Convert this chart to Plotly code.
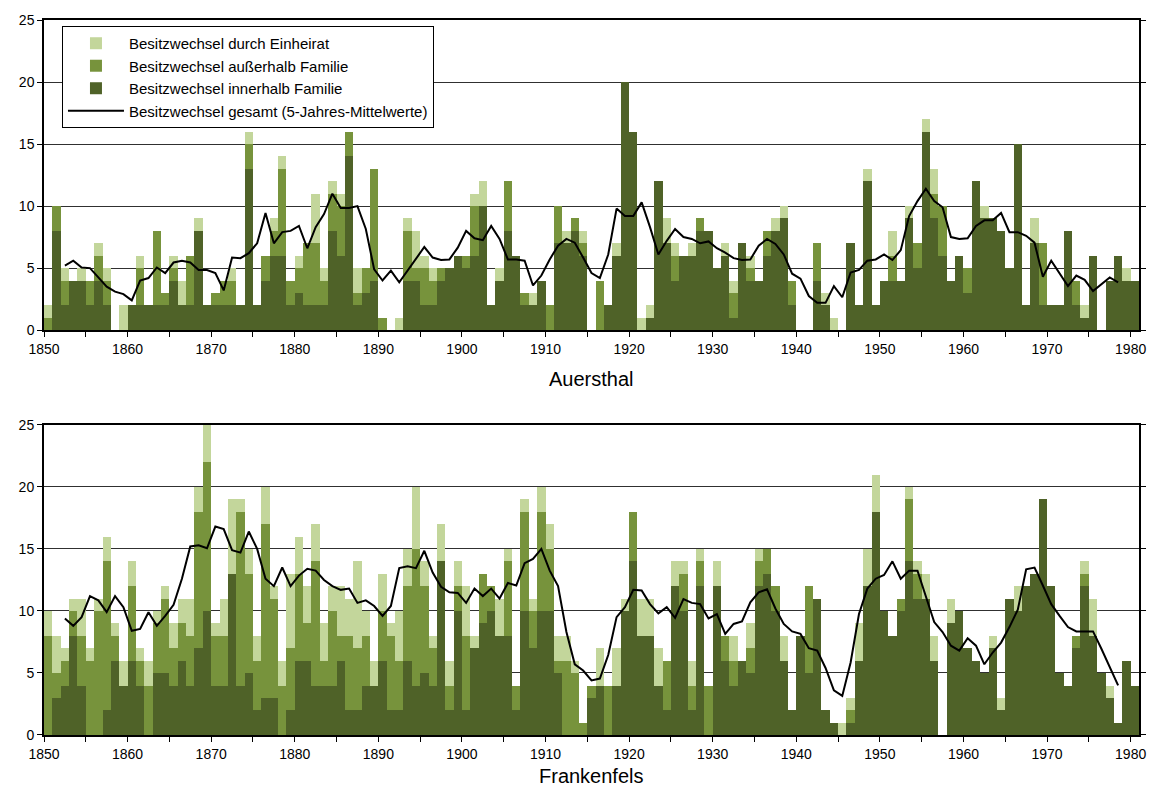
import plotly.graph_objects as go

# ---------------- data ----------------
years = list(range(1850, 1981))
avg_years = list(range(1852, 1979))
tick_years = list(range(1850, 1981, 10))

# Auersthal (top)
auer_inner = [0,8,2,4,4,2,4,2,0,0,
              2,2,2,2,2,4,2,2,8,2,
              2,2,2,2,13,2,4,6,6,2,
              3,2,2,2,8,6,14,2,3,4,
              0,0,0,4,4,2,2,4,5,6,
              5,6,10,2,4,8,6,2,2,4,
              0,7,7,8,6,0,0,2,6,20,
              16,0,1,12,7,4,6,6,8,8,
              5,6,1,7,4,4,6,8,9,2,
              0,0,4,2,0,0,7,2,12,2,
              4,4,4,9,5,16,9,6,4,6,
              3,12,9,9,8,5,15,2,7,2,
              2,2,8,2,1,6,0,4,6,4,4]
auer_outer = [1,2,2,0,0,2,2,2,0,0,
              0,3,0,6,1,1,0,4,0,0,
              1,2,2,0,2,0,2,2,7,2,
              2,5,5,2,3,4,2,1,2,9,
              1,0,0,4,1,3,2,1,0,0,
              1,4,0,0,0,4,0,1,0,0,
              2,3,0,1,1,0,4,0,0,0,
              0,0,0,0,0,2,0,0,1,0,
              0,0,2,0,1,0,2,0,0,2,
              0,0,3,0,0,0,0,0,0,0,
              0,2,0,0,2,0,2,4,0,0,
              2,0,0,0,0,0,0,0,0,5,
              0,0,0,2,0,0,0,0,0,0,0]
auer_marriage = [1,0,1,0,1,0,1,1,0,2,
                 0,1,0,0,0,1,2,0,1,0,
                 0,0,1,0,1,0,0,1,1,0,
                 1,0,4,1,1,1,0,2,0,0,
                 0,0,1,1,3,1,1,0,0,0,
                 0,1,2,0,1,0,0,0,1,0,
                 0,0,1,0,1,0,0,0,1,0,
                 0,1,1,0,2,1,0,1,0,0,
                 0,1,1,0,1,0,0,1,1,0,
                 0,0,0,1,1,0,0,0,1,0,
                 0,2,0,1,0,1,2,0,0,0,
                 0,0,1,0,0,0,0,0,2,0,
                 0,0,0,0,1,0,0,0,0,1,0]
auer_avg = [5.2,5.6,5.05,5.0,4.25,3.5,3.1,2.9,
            2.4,4.0,4.2,5.05,4.6,5.45,5.6,5.45,4.85,4.85,
            4.6,3.2,5.85,5.8,6.2,7.0,9.45,7.0,7.9,8.0,
            8.4,6.6,8.3,9.35,11.0,9.85,9.85,10.0,8.15,4.9,
            4.0,4.8,3.85,4.8,5.7,6.7,5.85,5.65,5.7,6.65,
            8.0,7.4,7.25,8.4,7.35,5.7,5.7,5.6,3.6,4.4,
            5.7,6.8,7.35,7.05,5.85,4.6,4.2,6.1,9.8,9.2,
            9.2,10.3,8.3,6.1,7.2,8.15,7.5,7.35,7.0,7.15,
            6.6,6.25,5.8,5.65,5.7,6.8,7.35,6.95,6.1,4.55,
            4.15,2.75,2.2,2.2,3.55,2.65,4.65,4.85,5.6,5.7,
            6.1,5.65,6.45,9.2,10.4,11.4,10.4,9.9,7.5,7.35,
            7.4,8.4,8.85,8.85,9.45,7.9,7.9,7.6,7.05,4.3,
            5.6,4.55,3.55,4.4,4.05,3.15,3.7,4.25,3.85]

# Frankenfels (bottom)
fran_inner = [0,3,4,8,4,0,0,2,6,4,
              6,4,0,5,5,4,6,4,7,10,
              4,4,13,4,5,2,3,3,0,2,
              6,6,4,4,4,6,2,2,4,4,
              6,2,2,6,4,5,4,14,2,10,
              2,7,9,10,8,8,2,10,7,10,
              10,5,0,0,0,3,4,0,4,10,
              14,8,8,4,2,12,10,2,12,0,
              12,6,4,6,5,12,13,10,6,2,
              8,5,11,2,1,0,1,6,12,18,
              10,8,10,14,11,11,6,0,9,10,
              7,6,5,7,2,11,10,12,13,19,
              12,5,4,7,12,8,5,3,1,6,4]
fran_outer = [8,2,2,2,4,6,10,12,2,0,
              6,2,4,4,6,3,3,4,11,12,
              4,4,0,14,8,4,14,8,4,5,
              7,3,10,2,6,2,6,5,4,0,
              4,6,4,6,11,7,3,0,2,2,
              6,0,4,2,0,6,2,8,3,8,
              5,1,6,5,1,1,0,4,0,0,
              4,0,0,0,4,0,3,2,2,4,
              0,2,2,0,2,2,2,2,0,0,
              0,7,0,0,0,0,1,0,0,0,
              0,0,1,5,2,0,0,0,0,0,
              0,0,0,0,0,0,0,0,0,0,
              0,0,0,1,1,0,0,0,0,0,0]
fran_marriage = [2,3,1,1,3,1,1,2,1,2,
                 2,1,2,1,1,2,2,3,2,3,
                 1,3,6,1,2,2,3,1,2,6,
                 3,3,3,3,2,4,3,7,2,2,
                 3,1,4,3,5,2,1,3,2,2,
                 4,1,0,0,3,1,0,1,1,2,
                 2,2,2,1,0,0,3,0,3,1,
                 0,3,3,3,0,2,1,2,1,0,
                 2,0,2,0,2,1,0,0,2,0,
                 0,0,0,0,0,1,1,3,3,3,
                 0,0,0,1,1,2,2,0,2,0,
                 0,0,0,1,1,0,2,0,0,0,
                 0,0,0,0,1,3,0,1,0,0,0]
fran_avg = [9.4,8.8,9.5,11.2,10.85,9.9,11.2,10.3,
            8.4,8.55,9.9,8.8,9.6,10.5,12.6,15.2,15.3,15.05,
            16.8,16.6,14.9,14.7,16.4,15.0,12.6,12.0,13.5,12.0,
            12.85,13.4,13.25,12.5,12.0,11.7,11.8,10.65,10.85,10.4,
            9.6,10.4,13.45,13.6,13.45,14.85,13.1,11.95,11.5,11.45,
            10.65,11.8,11.2,11.8,11.0,12.25,12.05,13.85,14.2,15.0,
            13.25,12.0,8.3,5.7,5.2,4.4,4.55,6.45,9.5,10.3,
            11.7,11.65,10.55,9.8,10.3,9.45,10.95,10.65,10.55,9.4,
            9.75,8.15,8.95,9.15,10.7,11.5,11.75,10.2,8.95,8.35,
            8.15,7.0,6.8,5.4,3.6,3.15,5.85,9.75,11.8,12.6,
            12.9,14.0,12.6,13.25,13.25,11.1,9.1,8.3,7.2,6.8,
            7.8,7.2,5.7,6.65,7.45,8.7,10.1,13.35,13.5,12.05,
            10.55,9.6,8.7,8.35,8.35,8.35,6.95,5.4,4.0]

names = ["Besitzwechsel durch Einheirat",
         "Besitzwechsel außerhalb Familie",
         "Besitzwechsel innerhalb Familie",
         "Besitzwechsel gesamt (5-Jahres-Mittelwerte)"]
panel_titles = ["Auersthal", "Frankenfels"]

# ---------------- styling ----------------
C_LIGHT = "#c3d69b"
C_MED = "#77933c"
C_DARK = "#4f6228"
FONT = "Liberation Sans, Arial, sans-serif"

fig = go.Figure()
xs = [y + 0.5 for y in years]
xa = [y + 0.5 for y in avg_years]

panels = [
    (auer_inner, auer_outer, auer_marriage, auer_avg, "x", "y", True),
    (fran_inner, fran_outer, fran_marriage, fran_avg, "x2", "y2", False),
]
for inner, outer, marr, avg, xr, yr, show in panels:
    fig.add_trace(go.Bar(x=xs, y=inner, name=names[2], marker=dict(color=C_DARK, line=dict(width=0)),
                         width=1, xaxis=xr, yaxis=yr, showlegend=show, legendrank=3))
    fig.add_trace(go.Bar(x=xs, y=outer, name=names[1], marker=dict(color=C_MED, line=dict(width=0)),
                         width=1, xaxis=xr, yaxis=yr, showlegend=show, legendrank=2))
    fig.add_trace(go.Bar(x=xs, y=marr, name=names[0], marker=dict(color=C_LIGHT, line=dict(width=0)),
                         width=1, xaxis=xr, yaxis=yr, showlegend=show, legendrank=1))
    fig.add_trace(go.Scatter(x=xa, y=avg, name=names[3], mode="lines",
                             line=dict(color="black", width=2), xaxis=xr, yaxis=yr,
                             showlegend=show, legendrank=4))

W, H = 1158, 789
ml, mr, mt, mb = 44, 17, 18, 54
ph = H - mt - mb
def py(p):  # pixel y -> paper y
    return (H - mb - p) / ph

xcommon = dict(range=[1850, 1981], tickmode="linear", tick0=1850, dtick=10,
               ticks="outside", ticklen=5, tickcolor="black",
               minor=dict(tick0=1850, dtick=5, ticks="outside", ticklen=5, tickcolor="black", showgrid=False),
               showline=True, linecolor="black", mirror=True, showgrid=False, zeroline=False,
               tickfont=dict(family=FONT, size=14, color="black"))
ycommon = dict(range=[0, 25], tickmode="linear", tick0=0, dtick=5,
               ticks="outside", ticklen=5, tickcolor="black",
               showline=True, linecolor="black", mirror="ticks",
               showgrid=True, gridcolor="#303030", gridwidth=1, zeroline=False,
               tickfont=dict(family=FONT, size=14, color="black"))

fig.update_layout(
    width=W, height=H,
    margin=dict(l=ml, r=mr, t=mt, b=mb),
    paper_bgcolor="white", plot_bgcolor="white",
    barmode="stack", bargap=0,
    font=dict(family=FONT, color="black"),
    xaxis=dict(**xcommon, anchor="y", domain=[0, 1], linewidth=1.5),
    yaxis=dict(**ycommon, anchor="x", domain=[py(329), 1.0], linewidth=1.5),
    xaxis2=dict(**xcommon, anchor="y2", domain=[0, 1], linewidth=2),
    yaxis2=dict(**ycommon, anchor="x2", domain=[0, py(424)], linewidth=2),
    legend=dict(x=(62 - ml) / (W - ml - mr), y=py(24), xanchor="left", yanchor="top",
                bgcolor="white", bordercolor="black", borderwidth=1,
                font=dict(family=FONT, size=15, color="black"),
                itemwidth=56, traceorder="normal", tracegroupgap=0),
    annotations=[
        dict(text=panel_titles[0], x=0.5, y=py(378), xref="paper", yref="paper",
             showarrow=False, font=dict(family=FONT, size=20, color="black"),
             xanchor="center", yanchor="middle"),
        dict(text=panel_titles[1], x=0.5, y=py(776), xref="paper", yref="paper",
             showarrow=False, font=dict(family=FONT, size=20, color="black"),
             xanchor="center", yanchor="middle"),
    ],
)

fig.write_html("out.html", config={"displayModeBar": False},
               post_script="document.body.style.margin='0';")
